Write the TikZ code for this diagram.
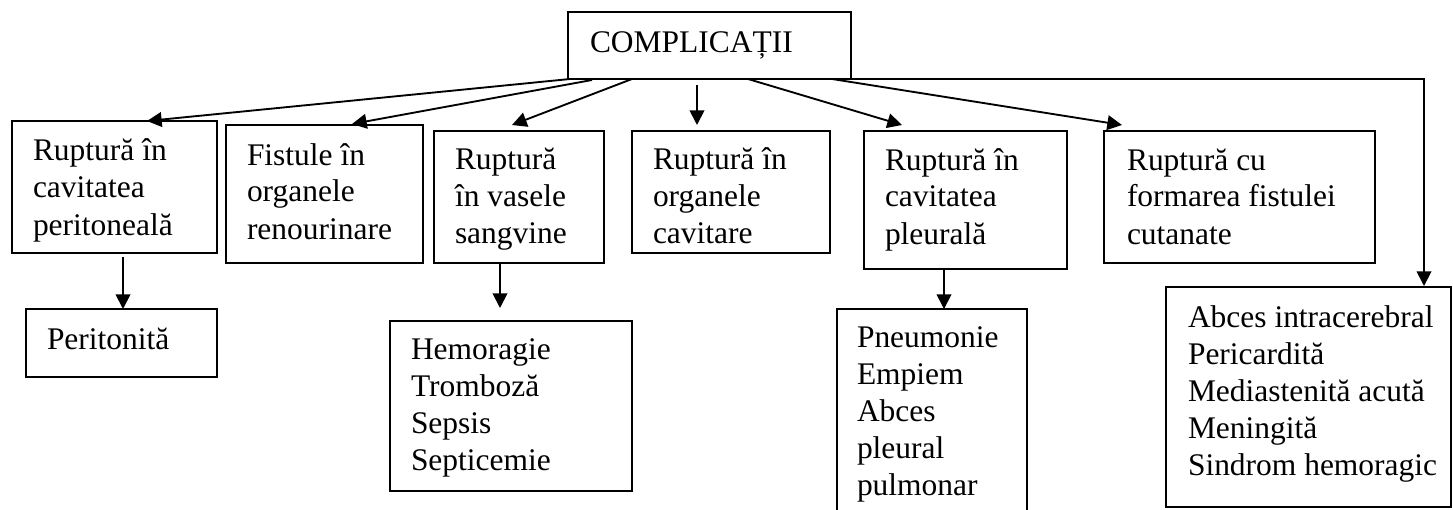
\documentclass[tikz,border=0pt]{standalone}
\usepackage{fontspec}
\setmainfont{Liberation Serif}
\usetikzlibrary{arrows.meta,fit,calc}
\newcommand{\mlines}[1]{\begin{tabular}[t]{@{}l@{}}#1\end{tabular}}
\begin{document}
\begin{tikzpicture}[x=0.75pt,y=-0.75pt,
  box/.style={draw,line width=1.4pt,inner sep=0pt,outer sep=0pt},
  lbl/.style={anchor=base west,inner sep=0pt,outer sep=0pt,font=\fontsize{23.6}{27.75}\selectfont},
  conn/.style={line width=1.4pt,-{Triangle[length=11pt,width=11pt]}}]
\useasboundingbox (0,0) rectangle (1453,510);
\begin{scope}
\clip (0,0) rectangle (1453,510);
% boxes
\node[box,fit={(568,12) (851,79)}] (top) {};
\node[box,fit={(12,121) (217,253)}] (b1) {};
\node[box,fit={(226,125) (423,263)}] (b2) {};
\node[box,fit={(434,131) (604,263)}] (b3) {};
\node[box,fit={(632,131) (830,253)}] (b4) {};
\node[box,fit={(864,131) (1067,269)}] (b5) {};
\node[box,fit={(1104,131) (1375,263)}] (b6) {};
\node[box,fit={(1166,287) (1451,507)}] (b7) {};
\node[box,fit={(837,309) (1027,540)}] (b8) {};
\node[box,fit={(390,321) (632,491)}] (b9) {};
\node[box,fit={(26,309) (217,377)}] (b10) {};
% texts
\node[lbl] (t0) at (590,53) {COMPLICAȚII};
\node[lbl] (t1) at (33,161) {\mlines{Ruptură în\\cavitatea\\peritoneală}};
\node[lbl] (t2) at (247,165) {\mlines{Fistule în\\organele\\renourinare}};
\node[lbl] (t3) at (455,169) {\mlines{Ruptură\\în vasele\\sangvine}};
\node[lbl] (t4) at (653,169) {\mlines{Ruptură în\\organele\\cavitare}};
\node[lbl] (t5) at (885,170) {\mlines{Ruptură în\\cavitatea\\pleurală}};
\node[lbl] (t6) at (1127,170) {\mlines{Ruptură cu\\formarea fistulei\\cutanate}};
\node[lbl] (t7) at (1188,327) {\mlines{Abces intracerebral\\Pericardită\\Mediastenită acută\\Meningită\\Sindrom hemoragic}};
\node[lbl] (t8) at (857,347) {\mlines{Pneumonie\\Empiem\\Abces\\pleural\\pulmonar}};
\node[lbl] (t9) at (411,359) {\mlines{Hemoragie\\Tromboză\\Sepsis\\Septicemie}};
\node[lbl] (t10) at (47,349) {Peritonită};
% connectors
\draw[conn] ($(top.south west)+(2,0)$) -- ($(b1.north)+(32.5,0)$);
\draw[conn] ($(top.south west)+(24,1)$) -- ($(b2.north)+(27.5,-1)$);
\draw[conn] ($(top.south west)+(64,0)$) -- ($(b3.north)+(-7,-6)$);
\draw[conn] ($(top.south west)+(129,6)$) -- ($(b4.north)+(-34,-6)$);
\draw[conn] ($(top.south west)+(180,0)$) -- ($(b5.north)+(-63.5,-6)$);
\draw[conn] ($(top.south east)+(-19,0)$) -- ($(b6.north)+(-117.5,-6)$);
\draw[conn] (top.south east) -| ($(b7.north)+(115.5,-1)$);
\draw[conn] ($(b1.south)+(8.5,4)$) -- ($(b10.north)+(1.5,0)$);
\draw[conn] ($(b3.south)+(-19,0)$) -- ($(b9.north)+(-11,-13)$);
\draw[conn] ($(b5.south)+(-21.5,0)$) -- ($(b8.north)+(12,0)$);
\end{scope}
\end{tikzpicture}
\end{document}
